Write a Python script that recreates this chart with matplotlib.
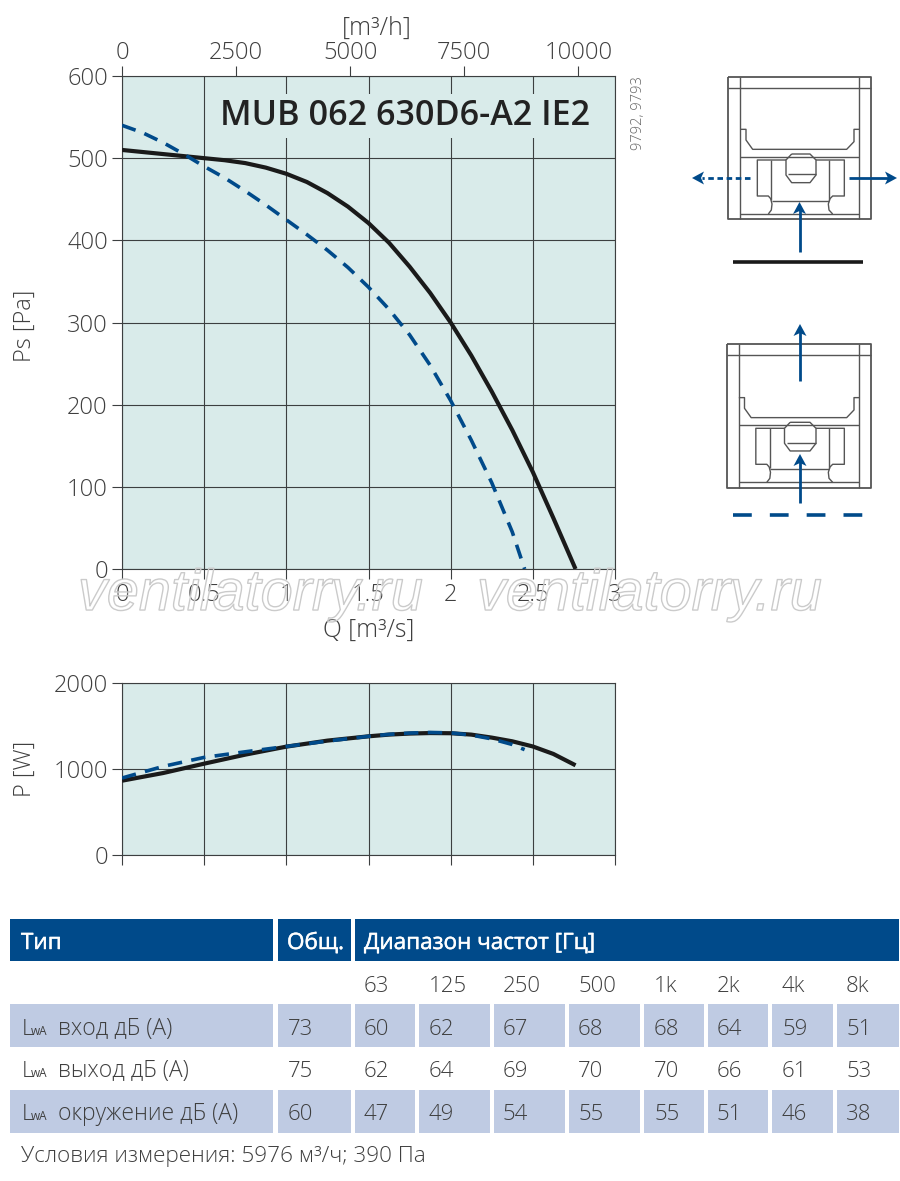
import matplotlib
matplotlib.use('Agg')
import matplotlib.pyplot as plt
import matplotlib.patheffects as pe
from matplotlib.patches import Rectangle, Polygon

plt.rcParams['font.family'] = ['Open Sans', 'DejaVu Sans']

# ---- data ----
q_solid = [0, .125, .25, .375, .5, .625, .75, .875, 1, 1.125, 1.25, 1.375, 1.5, 1.625, 1.75, 1.875, 2, 2.125, 2.25, 2.375, 2.5, 2.625, 2.76]
ps_solid = [510, 507.5, 505, 502.5, 500, 497.5, 494, 488.5, 481, 471, 457.5, 441, 421, 397, 368, 336, 300, 260, 216, 169, 118, 62, 0]
q_dash = [0, .125, .25, .375, .5, .625, .75, .875, 1, 1.125, 1.25, 1.375, 1.5, 1.625, 1.75, 1.875, 2, 2.125, 2.25, 2.375, 2.45]
ps_dash = [540, 531, 519, 505, 490, 476, 460, 443, 425, 407, 388, 367, 343, 316, 285, 248, 205, 157, 105, 45, 0]
p_solid_q = [0, .25, .5, .75, 1, 1.25, 1.5, 1.625, 1.75, 1.875, 2, 2.125, 2.25, 2.375, 2.5, 2.625, 2.76]
p_solid = [864, 953, 1062, 1167, 1260, 1330, 1380, 1400, 1412, 1418, 1416, 1400, 1365, 1322, 1262, 1175, 1043]
p_dash_q = [0, .25, .5, .75, 1, 1.25, 1.5, 1.625, 1.75, 1.875, 2, 2.125, 2.25, 2.375, 2.45]
p_dash = [895, 1030, 1135, 1200, 1262, 1325, 1380, 1403, 1418, 1425, 1420, 1395, 1350, 1285, 1225]

q_ticks = [0, 0.5, 1, 1.5, 2, 2.5, 3]
q_labels = ['0', '0.5', '1', '1.5', '2', '2.5', '3']
ps_ticks = [0, 100, 200, 300, 400, 500, 600]
p_ticks = [0, 1000, 2000]
flow_ticks = [0, 2500, 5000, 7500, 10000]

row_labels = ['вход дБ (A)', 'выход дБ (A)', 'окружение дБ (A)']
freqs = ['63', '125', '250', '500', '1k', '2k', '4k', '8k']
total = [73, 75, 60]
inlet = [60, 62, 67, 68, 68, 64, 59, 51]
outlet = [62, 64, 69, 70, 70, 66, 61, 53]
ambient = [47, 49, 54, 55, 55, 51, 46, 38]
bands = [inlet, outlet, ambient]

# ---- style ----
W, H = 900, 1181
BG = '#d9ebea'; GRID = '#3c3f40'; TXT = '#3f3f3f'; BLUE = '#004a8a'; BLACK = '#1a1a1a'; ROW = '#bfcbe3'; SCH = '#555555'
TICK_FS = 17
fig = plt.figure(figsize=(W/100, H/100), dpi=100)

def axes_px(x0, y0, x1, y1):
    return fig.add_axes([x0/W, 1-y1/H, (x1-x0)/W, (y1-y0)/H])

def style(ax):
    ax.set_facecolor(BG)
    ax.set_xlim(0, 3)
    ax.grid(True, color=GRID, lw=0.8)
    ax.set_axisbelow(False)
    for s in ax.spines.values():
        s.set_color(GRID); s.set_linewidth(0.8)
    ax.tick_params(color=GRID, labelcolor=TXT, labelsize=TICK_FS, width=0.8, length=7.2, pad=3)
    for t in ax.get_xticklabels() + ax.get_yticklabels():
        t.set_fontweight('light')

# main chart
ax = axes_px(122, 76, 615, 569)
ax.set_ylim(0, 600)
ax.set_xticks(q_ticks, q_labels)
ax.set_yticks(ps_ticks)
style(ax)
ax.plot(q_solid, ps_solid, color=BLACK, lw=3, solid_capstyle='butt', zorder=4)
ax.plot(q_dash, ps_dash, color=BLUE, lw=2.6, dashes=(4, 2.6), dash_capstyle='butt', zorder=4)
ax.set_xlabel('Q [m³/s]', fontsize=17.8, color=TXT, fontweight='light')
ax.xaxis.set_label_coords(0.5, -0.099)
ax.set_ylabel('Ps [Pa]', fontsize=17, color=TXT, fontweight='light')
ax.yaxis.set_label_coords(-0.172, 0.494)

top = ax.secondary_xaxis('top', functions=(lambda q: q*3600, lambda f: f/3600))
top.set_xticks(flow_ticks)
top.tick_params(color=GRID, labelcolor=TXT, labelsize=TICK_FS, width=0.8, length=7.2, pad=0.5)
for t in top.get_xticklabels():
    t.set_fontweight('light')
top.spines['top'].set_visible(False)

# power chart
ax2 = axes_px(122, 683, 615, 855)
ax2.set_ylim(0, 2000)
ax2.set_xticks(q_ticks, [''] * len(q_ticks))
ax2.set_yticks(p_ticks)
style(ax2)
ax2.plot(p_solid_q, p_solid, color=BLACK, lw=3, solid_capstyle='butt', zorder=4)
ax2.plot(p_dash_q, p_dash, color=BLUE, lw=2.6, dashes=(4, 2.6), dash_capstyle='butt', zorder=5)
ax2.set_ylabel('P [W]', fontsize=17, color=TXT, fontweight='light')
ax2.yaxis.set_label_coords(-0.172, 0.5)

# overlay in pixel coordinates
ov = fig.add_axes([0, 0, 1, 1], zorder=10)
ov.set_xlim(0, W); ov.set_ylim(H, 0); ov.axis('off'); ov.patch.set_alpha(0)

ov.text(377, 28, '[m³/h]', ha='center', va='center', fontsize=18, color=TXT, fontweight='light')
ov.text(590, 125, 'MUB 062 630D6-A2 IE2', ha='right', va='baseline', fontsize=24.6,
        color='#222222', fontweight='semibold',
        bbox=dict(fc=BG, ec='none', boxstyle='square,pad=0.15'))
ov.text(638, 113, '9792, 9793', rotation=90, ha='center', va='center', fontsize=10.5, color='#666666', fontweight='light')

for x0 in (78, 477):
    ov.text(x0, 595, 'ventilatorry.ru', ha='left', va='center', fontsize=41.5, style='italic',
            family='Liberation Sans', color=(1, 1, 1, 0.12),
            path_effects=[pe.Stroke(linewidth=1.0, foreground='#c8c8c8'), pe.Normal()])

# schematics (traced on a 3x grid, then placed in pixels)
def schematic(left_dx, dy, low_dy):
    def line(xs, ys, lw=1.0):
        ov.plot([660+x/3+(left_dx if x < 420 else 0) for x in xs],
                [60+y/3+dy+(low_dy if y > 200 else 0) for y in ys], color=SCH, lw=lw,
                solid_capstyle='butt', solid_joinstyle='round')
    line([205, 632, 632, 205, 205], [50, 50, 478, 478, 50], 1.3)
    line([241, 241], [50, 478]); line([598, 598], [50, 478])
    line([205, 632], [85, 85])
    line([241, 598], [291, 291])
    line([241, 598], [462, 462])
    line([241, 258, 258, 278, 560, 582, 582, 598], [208, 208, 240, 268, 268, 245, 208, 208])
    line([378, 292, 292, 325, 332, 336, 334, 325], [300, 300, 408, 408, 416, 432, 450, 462])
    line([468, 553, 553, 518, 510, 505, 507, 518], [300, 300, 408, 408, 416, 432, 450, 462])
    line([333, 333], [300, 420]); line([508, 508], [300, 420])
    line([335, 507], [422, 422])
    line([395, 450, 468, 468, 450, 395, 378, 378, 395], [282, 282, 300, 345, 368, 368, 345, 300, 282])
    line([385, 468], [343, 343])

def head(x, y, ux, uy, size=1.0):
    L, hw, n = 12*size, 6.5*size, 3*size
    px, py = -uy, ux
    ov.add_patch(Polygon([(x, y), (x-ux*L+px*hw, y-uy*L+py*hw), (x-ux*(L-n), y-uy*(L-n)),
                          (x-ux*L-px*hw, y-uy*L-py*hw)], fc=BLUE, ec='none'))

def arrow(x0, y0, x1, y1):
    L = abs(x1-x0)+abs(y1-y0)
    ux, uy = (x1-x0)/L, (y1-y0)/L
    ov.plot([x0, x1-ux*8], [y0, y1-uy*8], color=BLUE, lw=2, solid_capstyle='butt')
    head(x1, y1, ux, uy)

schematic(0, 0, 0)
schematic(-1.5, 267, 1.3)
arrow(799.5, 252, 799.5, 202)
arrow(849, 178, 897, 178)
ov.plot([750, 702], [178, 178], color=BLUE, lw=2, dashes=(2, 1.3), dash_capstyle='butt')
head(692, 178, -1, 0)
ov.plot([733, 863], [262, 262], color=BLACK, lw=2.6, solid_capstyle='butt')
arrow(800, 381, 800, 324)
arrow(800, 503, 800, 454)
ov.plot([733, 863], [515, 515], color=BLUE, lw=2.6, dashes=(5.2, 5.0), dash_capstyle='butt')

# table
band_spans = [(355, 415), (419, 490), (494, 565), (569, 640), (644, 704), (708, 768), (772, 833), (837, 899)]
band_text = [364, 429, 503, 578, 654, 717, 782, 846]
row_tops = [1004, None, 1090]
baselines = [1035, 1077, 1120]

def cell(x0, x1, y0, y1, c):
    ov.add_patch(Rectangle((x0, y0), x1-x0, y1-y0, fc=c, ec='none'))

FS = 16
hdr_fx = [pe.withStroke(linewidth=0.35, foreground='white')]
for x0, x1 in [(10, 273), (278, 351), (355, 899)]:
    cell(x0, x1, 919, 961, BLUE)
for x, s in [(21, 'Тип'), (287, 'Общ.'), (364, 'Диапазон частот [Гц]')]:
    ov.text(x, 949, s, color='white', fontsize=16.2, va='baseline', path_effects=hdr_fx)

for t, x in zip(freqs, band_text):
    ov.text(x, 992, t, ha='left', va='baseline', fontsize=FS, color=TXT, fontweight='light')

for lab, tot, vals, y0, yb in zip(row_labels, total, bands, row_tops, baselines):
    if y0 is not None:
        cell(10, 273, y0, y0+43, ROW); cell(278, 351, y0, y0+43, ROW)
        for a, b in band_spans:
            cell(a, b, y0, y0+43, ROW)
    ov.text(22, yb, 'L', fontsize=FS, color=TXT, va='baseline', fontweight='light')
    ov.text(31, yb, 'wA', fontsize=8.5, color=TXT, va='baseline')
    ov.text(58, yb, lab, fontsize=16.5, color=TXT, va='baseline', fontweight='light')
    ov.text(288, yb, str(tot), ha='left', va='baseline', fontsize=FS, color=TXT, fontweight='light')
    for v, x in zip(vals, band_text):
        ov.text(x, yb, str(v), ha='left', va='baseline', fontsize=FS, color=TXT, fontweight='light')

ov.text(21, 1162, 'Условия измерения: 5976 м³/ч; 390 Па', fontsize=16.2, color=TXT, va='baseline', fontweight='light')

fig.savefig('out.png', dpi=100)
